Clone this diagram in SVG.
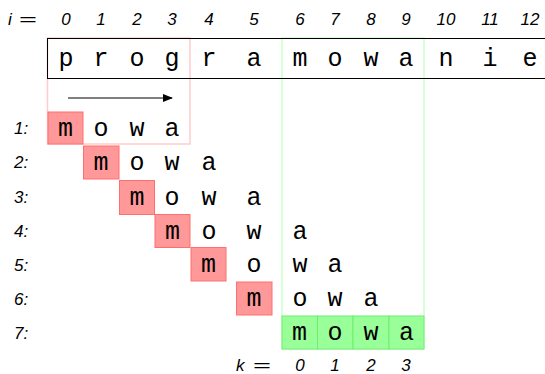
<svg xmlns="http://www.w3.org/2000/svg" width="545" height="374" viewBox="0 0 545 374">
<defs>
<marker id="ah" markerWidth="10" markerHeight="8" refX="9" refY="4" orient="auto" markerUnits="userSpaceOnUse">
<path d="M0,0 L10,4 L0,8 z" fill="#000"/>
</marker>
</defs>
<style>
.t{font-family:"Liberation Mono","Courier New",monospace;font-size:25px;fill:#000;text-anchor:middle}
.n{font-family:"Liberation Sans",Arial,sans-serif;font-style:italic;font-size:17px;fill:#000;text-anchor:middle}
.l{font-family:"Liberation Sans",Arial,sans-serif;font-style:italic;font-size:17px;fill:#000}
.eq{font-family:"Liberation Sans",Arial,sans-serif;font-size:17px;fill:#000}
.red{fill:#ff9999;stroke:#ff6f6f;stroke-width:1}
.grn{fill:#99ff99;stroke:#70ee70;stroke-width:1}
.pf{fill:none;stroke:#ffcccc;stroke-width:1.5}
.gf{fill:none;stroke:#ccffcc;stroke-width:1.5}
</style>
<rect width="545" height="374" fill="#fff"/>

<g id="header">
<text class="l" x="8" y="25">i</text>
<text class="eq" x="19" y="25" textLength="18" lengthAdjust="spacingAndGlyphs">=</text>
<text class="n" x="66" y="25">0</text>
<text class="n" x="101" y="25">1</text>
<text class="n" x="137" y="25">2</text>
<text class="n" x="172" y="25">3</text>
<text class="n" x="209" y="25">4</text>
<text class="n" x="254" y="25">5</text>
<text class="n" x="300" y="25">6</text>
<text class="n" x="335" y="25">7</text>
<text class="n" x="371" y="25">8</text>
<text class="n" x="406" y="25">9</text>
<text class="n" x="446" y="25">10</text>
<text class="n" x="490" y="25">11</text>
<text class="n" x="530" y="25">12</text>
</g>

<g id="frames">
<rect class="pf" x="47.5" y="38" width="142.5" height="106"/>
<rect class="gf" x="282" y="38" width="142" height="311"/>
</g>

<g id="text-box">
<rect x="47.5" y="38.5" width="510" height="40" fill="none" stroke="#000" stroke-width="1"/>
<text class="t" x="66" y="66">p</text>
<text class="t" x="101" y="66">r</text>
<text class="t" x="137" y="66">o</text>
<text class="t" x="172" y="66">g</text>
<text class="t" x="209" y="66">r</text>
<text class="t" x="254" y="66">a</text>
<text class="t" x="300" y="66">m</text>
<text class="t" x="335" y="66">o</text>
<text class="t" x="371" y="66">w</text>
<text class="t" x="406" y="66">a</text>
<text class="t" x="446" y="66">n</text>
<text class="t" x="490" y="66">i</text>
<text class="t" x="530" y="66">e</text>
</g>

<g id="connectors">
<line x1="68" y1="98" x2="172" y2="98" stroke="#000" stroke-width="1" marker-end="url(#ah)"/>
</g>

<g id="row1">
<text class="l" x="14" y="134">1:</text>
<rect class="red" x="48" y="112" width="35" height="32"/>
<text class="t" x="65.5" y="136">m</text>
<text class="t" x="101" y="136">o</text>
<text class="t" x="137" y="136">w</text>
<text class="t" x="172" y="136">a</text>
</g>
<g id="row2">
<text class="l" x="14" y="168">2:</text>
<rect class="red" x="83.5" y="146" width="35.5" height="33"/>
<text class="t" x="101" y="170">m</text>
<text class="t" x="137" y="170">o</text>
<text class="t" x="172" y="170">w</text>
<text class="t" x="209" y="170">a</text>
</g>
<g id="row3">
<text class="l" x="14" y="203">3:</text>
<rect class="red" x="119.5" y="180.5" width="35" height="34"/>
<text class="t" x="137" y="205">m</text>
<text class="t" x="172" y="205">o</text>
<text class="t" x="209" y="205">w</text>
<text class="t" x="254" y="205">a</text>
</g>
<g id="row4">
<text class="l" x="14" y="237">4:</text>
<rect class="red" x="155" y="214.5" width="35" height="33"/>
<text class="t" x="172.5" y="239">m</text>
<text class="t" x="209" y="239">o</text>
<text class="t" x="254" y="239">w</text>
<text class="t" x="300" y="239">a</text>
</g>
<g id="row5">
<text class="l" x="14" y="271">5:</text>
<rect class="red" x="191" y="247.5" width="35" height="33.5"/>
<text class="t" x="208.5" y="272">m</text>
<text class="t" x="254" y="272">o</text>
<text class="t" x="300" y="272">w</text>
<text class="t" x="335" y="272">a</text>
</g>
<g id="row6">
<text class="l" x="14" y="305">6:</text>
<rect class="red" x="236.5" y="282" width="35.5" height="33"/>
<text class="t" x="254" y="306">m</text>
<text class="t" x="300" y="306">o</text>
<text class="t" x="335" y="306">w</text>
<text class="t" x="371" y="306">a</text>
</g>
<g id="row7">
<text class="l" x="14" y="339">7:</text>
<rect class="grn" x="282" y="316" width="35.5" height="33"/>
<rect class="grn" x="317.5" y="316" width="35.5" height="33"/>
<rect class="grn" x="353" y="316" width="36" height="33"/>
<rect class="grn" x="389" y="316" width="35" height="33"/>
<text class="t" x="299.5" y="340">m</text>
<text class="t" x="335" y="340">o</text>
<text class="t" x="371" y="340">w</text>
<text class="t" x="406.5" y="340">a</text>
</g>

<g id="footer">
<text class="l" x="236" y="371">k</text>
<text class="eq" x="253" y="371" textLength="18" lengthAdjust="spacingAndGlyphs">=</text>
<text class="n" x="300" y="371">0</text>
<text class="n" x="335" y="371">1</text>
<text class="n" x="371" y="371">2</text>
<text class="n" x="406" y="371">3</text>
</g>
</svg>
